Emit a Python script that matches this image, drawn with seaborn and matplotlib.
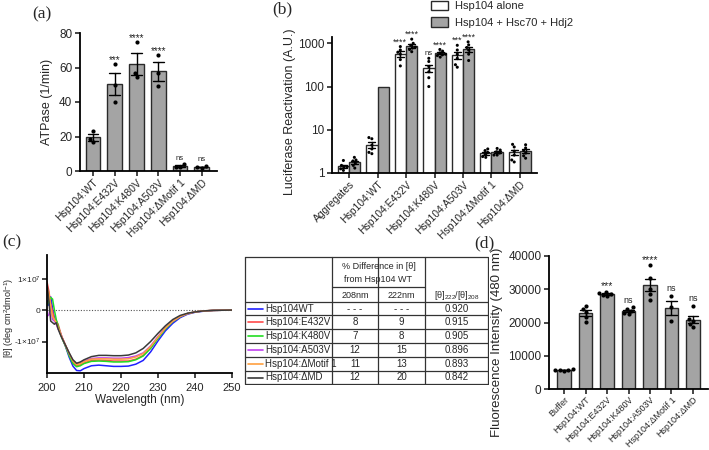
import numpy as np
import pandas as pd
import matplotlib.pyplot as plt
import seaborn as sns
from matplotlib.patches import Patch

sns.set_theme(style="ticks")
plt.rcParams["font.family"] = ["Liberation Sans", "DejaVu Sans"]
plt.rcParams["mathtext.fontset"] = "custom"
plt.rcParams["mathtext.rm"] = "Liberation Sans"
plt.rcParams["mathtext.it"] = "Liberation Sans:italic"
plt.rcParams["axes.linewidth"] = 1.3
plt.rcParams["xtick.major.width"] = 1.2
plt.rcParams["ytick.major.width"] = 1.2
plt.rcParams["xtick.major.size"] = 3.5
plt.rcParams["ytick.major.size"] = 3.5

GRAY = "#a4a4a4"
EDGE = "#2a2a2a"

# ============================================
# DATA
# ============================================

# (a) ATPase
atp_labels = ["Hsp104:WT", "Hsp104:E432V", "Hsp104:K480V", "Hsp104:A503V",
              "Hsp104:ΔMotif 1", "Hsp104:ΔMD"]
atp_points = [[23.4, 18.5, 16.8],
              [62.0, 50.0, 39.8],
              [74.8, 56.7, 54.4],
              [67.4, 56.7, 49.0],
              [3.8, 2.6, 2.4],
              [2.8, 2.1, 2.0]]
atp_sig = ["", "***", "****", "****", "ns", "ns"]

# (b) luciferase reactivation
luc_labels = ["Aggregates", "Hsp104:WT", "Hsp104:E432V", "Hsp104:K480V",
              "Hsp104:A503V", "Hsp104:ΔMotif 1", "Hsp104:ΔMD"]
luc_conditions = ["Hsp104 alone", "Hsp104 + Hsc70 + Hdj2"]
luc_alone = [[1.15, 1.25, 1.35, 1.4, 1.5, 1.95],
             [6.6, 6.2, 4.4, 3.6, 3.0, 2.8],
             [840, 700, 620, 560, 420, 300],
             [450, 380, 290, 220, 160, 100],
             [900, 700, 560, 450, 320, 280],
             [3.6, 3.3, 3.0, 2.7, 2.4, 2.3],
             [4.6, 4.0, 3.2, 2.6, 2.0, 1.8]]
luc_chap = [[1.3, 1.5, 1.7, 1.9, 2.0, 2.3],
            [100],
            [1250, 1000, 900, 820, 780, 720, 640],
            [720, 660, 600, 560, 540, 520, 480],
            [1080, 920, 800, 700, 560, 400],
            [3.7, 3.4, 3.1, 2.9, 2.6, 2.6],
            [4.5, 3.8, 3.3, 2.9, 2.5, 2.2]]
luc_sig_alone = ["", "", "****", "ns", "***", "", ""]
luc_sig_chap = ["", "", "****", "****", "****", "", ""]

# (c) CD spectra (x1e7 deg cm2 dmol-1)
cd_names = ["Hsp104WT", "Hsp104:E432V", "Hsp104:K480V", "Hsp104:A503V",
            "Hsp104:ΔMotif 1", "Hsp104:ΔMD"]
cd_colors = ["#2020ff", "#ff4a4a", "#22dd22", "#c040f0", "#ffa040", "#3a3a3a"]
cd_wl = [200, 200.5, 201, 201.5, 202, 202.5, 203, 203.5, 204, 205, 206, 207,
         208, 209, 210, 212, 214, 216, 218, 220, 222, 224, 226, 228, 230, 232,
         234, 236, 238, 240, 242, 245, 250]
cd_wt = [0.30, 0.15, 0.42, 0.05, -0.25, -0.35, -0.55, -0.70, -0.85, -1.15, -1.50,
         -1.78, -1.92, -1.93, -1.86, -1.77, -1.75, -1.77, -1.79, -1.79, -1.78,
         -1.72, -1.60, -1.33, -0.98, -0.66, -0.42, -0.24, -0.13, -0.07, -0.04,
         -0.01, 0]
cd_e432v = [0.90, 0.60, 0.20, -0.05, -0.30, -0.35, -0.45, -0.65, -0.85, -1.12,
            -1.40, -1.65, -1.77, -1.74, -1.68, -1.60, -1.59, -1.60, -1.62, -1.62,
            -1.62, -1.56, -1.44, -1.20, -0.88, -0.58, -0.36, -0.21, -0.11, -0.06,
            -0.03, -0.01, 0]
cd_k480v = [0.15, 0.30, 0.40, 0.35, 0.00, -0.30, -0.50, -0.70, -0.88, -1.15,
            -1.45, -1.70, -1.80, -1.77, -1.70, -1.63, -1.62, -1.63, -1.65, -1.65,
            -1.64, -1.58, -1.46, -1.22, -0.90, -0.60, -0.37, -0.21, -0.11, -0.06,
            -0.03, -0.01, 0]
cd_a503v = [-0.20, -0.15, 0.10, -0.30, -0.35, -0.45, -0.60, -0.70, -0.85, -1.12,
            -1.38, -1.60, -1.71, -1.68, -1.62, -1.54, -1.52, -1.52, -1.53, -1.53,
            -1.51, -1.46, -1.36, -1.14, -0.84, -0.56, -0.35, -0.20, -0.11, -0.06,
            -0.03, -0.01, 0]
cd_motif1 = [0.70, 0.55, 0.10, -0.20, -0.30, -0.40, -0.55, -0.70, -0.85, -1.12,
             -1.38, -1.62, -1.73, -1.70, -1.64, -1.56, -1.55, -1.55, -1.56, -1.56,
             -1.55, -1.49, -1.38, -1.16, -0.86, -0.57, -0.35, -0.20, -0.11, -0.06,
             -0.03, -0.01, 0]
cd_md = [0.85, 0.30, -0.35, -0.40, -0.45, -0.40, -0.60, -0.75, -0.88, -1.12,
         -1.36, -1.58, -1.69, -1.65, -1.58, -1.48, -1.44, -1.44, -1.45, -1.45,
         -1.43, -1.36, -1.22, -1.00, -0.74, -0.50, -0.30, -0.17, -0.10, -0.06,
         -0.03, -0.01, 0]
cd_series = [cd_wt, cd_e432v, cd_k480v, cd_a503v, cd_motif1, cd_md]

tab_diff208 = ["- - -", "8", "7", "12", "11", "12"]
tab_diff222 = ["- - -", "9", "8", "15", "13", "20"]
tab_ratio = ["0.920", "0.915", "0.905", "0.896", "0.893", "0.842"]

# (d) fluorescence
fl_labels = ["Buffer", "Hsp104:WT", "Hsp104:E432V", "Hsp104:K480V",
             "Hsp104:A503V", "Hsp104:ΔMotif 1", "Hsp104:ΔMD"]
fl_points = [[5900, 5700, 5500, 5600, 5800],
             [25000, 24200, 23200, 21600, 20300],
             [29200, 28800, 28500, 28200, 28000],
             [24600, 24000, 23500, 23000, 22500],
             [37200, 33500, 30000, 28500, 26800],
             [28000, 24800, 20500],
             [25000, 21000, 20500, 19500, 18500]]
fl_sig = ["", "", "***", "ns", "****", "ns", "ns"]


def px_axes(fig, left, top, right, bottom, W=709, H=450):
    return fig.add_axes([left / W, 1 - bottom / H, (right - left) / W, (bottom - top) / H])


fig = plt.figure(figsize=(7.09, 4.5), dpi=100)

# ============================================
# (a)
# ============================================
ax_a = px_axes(fig, 80, 33, 217, 171)
df_a = pd.DataFrame([(lab, v) for lab, pts in zip(atp_labels, atp_points) for v in pts],
                    columns=["variant", "atpase"])
sns.barplot(data=df_a, x="variant", y="atpase", order=atp_labels, color=GRAY,
            saturation=1, edgecolor=EDGE, linewidth=1, width=0.68, errorbar="se",
            capsize=0.5, err_kws={"color": "black", "linewidth": 1}, ax=ax_a)
sns.swarmplot(data=df_a, x="variant", y="atpase", order=atp_labels, color="black",
              size=3, ax=ax_a)
for i, pts in enumerate(atp_points):
    top = max(max(pts), np.mean(pts) + np.std(pts, ddof=1) / np.sqrt(len(pts)))
    fs = 5.5 if atp_sig[i] == "ns" else 7
    off = 3.6 if atp_sig[i] == "ns" else 2.2
    ax_a.text(i, top + off, atp_sig[i], ha="center", va="center", fontsize=fs, color="#222222")
ax_a.set_xlim(-0.6, 5.7)
ax_a.set_ylim(0, 80)
ax_a.set_yticks([0, 20, 40, 60, 80])
ax_a.set_ylabel("ATPase (1/min)", fontsize=9)
ax_a.yaxis.set_label_coords((53 - 80) / 137, 0.5)
ax_a.set_xlabel("")

# ============================================
# (b)
# ============================================
ax_b = px_axes(fig, 332, 37, 537, 173)
rows = []
for lab, a_pts, c_pts in zip(luc_labels, luc_alone, luc_chap):
    rows += [(lab, luc_conditions[0], v) for v in a_pts]
    rows += [(lab, luc_conditions[1], v) for v in c_pts]
df_b = pd.DataFrame(rows, columns=["variant", "condition", "value"])
pal_b = {luc_conditions[0]: "white", luc_conditions[1]: GRAY}
sns.barplot(data=df_b, x="variant", y="value", hue="condition", order=luc_labels,
            hue_order=luc_conditions, palette=pal_b, saturation=1, edgecolor=EDGE,
            linewidth=1, width=0.8, errorbar="se", capsize=0.5,
            err_kws={"color": "black", "linewidth": 1}, legend=False, ax=ax_b)
ax_b.set_yscale("log")
ax_b.set_ylim(1, 1400)
n_per = df_b.groupby(["variant", "condition"])["value"].transform("size")
sns.swarmplot(data=df_b[n_per > 1], x="variant", y="value", hue="condition",
              order=luc_labels, hue_order=luc_conditions,
              palette={c: "black" for c in luc_conditions}, dodge=True, size=2.2,
              legend=False, ax=ax_b)
for i in range(len(luc_labels)):
    for j, (pts, sig) in enumerate([(luc_alone[i], luc_sig_alone[i]), (luc_chap[i], luc_sig_chap[i])]):
        if sig:
            fs = 5.5 if sig == "ns" else 6.5
            ax_b.text(i - 0.2 + 0.4 * j, max(pts) * 1.28, sig, ha="center", va="center",
                      fontsize=fs, color="#222222")
ax_b.set_xlim(-0.6, 6.6)
ax_b.set_yticks([1, 10, 100, 1000])
ax_b.set_yticklabels(["1", "10", "100", "1000"])
ax_b.minorticks_off()
ax_b.set_ylabel("Luciferase Reactivation (A.U.)", fontsize=9)
ax_b.yaxis.set_label_coords((296 - 332) / 205, 0.45)
ax_b.set_xlabel("")
handles = [Patch(facecolor=pal_b[c], edgecolor=EDGE, linewidth=1) for c in luc_conditions]
fig.legend(handles, luc_conditions, loc="upper left", bbox_to_anchor=(427 / 709, 1.008),
           frameon=False, fontsize=8, handlelength=1.5, handleheight=0.9,
           labelspacing=0.55, handletextpad=0.6, borderaxespad=0)

# ============================================
# (c) CD spectra
# ============================================
ax_c = px_axes(fig, 47, 255, 232, 373)
df_c = pd.DataFrame([(name, w, v * 1e7) for name, ser in zip(cd_names, cd_series)
                     for w, v in zip(cd_wl, ser)], columns=["name", "wl", "theta"])
ax_c.axhline(0, color="#555555", linestyle=(0, (1, 1.5)), linewidth=0.8, zorder=0)
sns.lineplot(data=df_c, x="wl", y="theta", hue="name", hue_order=cd_names,
             palette=cd_colors, linewidth=1.1, legend=False, ax=ax_c)
ax_c.set_xlim(200, 250)
ax_c.set_ylim(-2.0e7, 1.75e7)
ax_c.set_xticks([200, 210, 220, 230, 240, 250])
ax_c.set_yticks([-1e7, 0, 1e7])
ax_c.set_yticklabels(["-1×10$^7$", "0", "1×10$^7$"])
ax_c.set_xlabel("Wavelength (nm)", fontsize=8.5, labelpad=1)
ax_c.set_ylabel("[θ] (deg cm$^2$dmol$^{-1}$)", fontsize=6.5)
ax_c.yaxis.set_label_coords((16 - 47) / 185, 0.47)
ax_c.tick_params(axis="x", labelsize=8)
ax_c.tick_params(axis="y", labelsize=6, pad=1)

# table
ax_t = px_axes(fig, 244, 256, 489, 385)
ax_t.set_xlim(244, 489)
ax_t.set_ylim(385, 256)
ax_t.axis("off")
tc = "#333333"
col_x = [245, 332, 378, 425, 488]
row_y = [302, 315, 329, 343, 357, 371, 384]
lw = 0.9
ax_t.plot([245, 488, 488, 245, 245], [257, 257, 384, 384, 257], color=tc, lw=lw)
for x in col_x[1:-1]:
    ax_t.plot([x, x], [257, 384], color=tc, lw=lw)
ax_t.plot([332, 425], [287, 287], color=tc, lw=lw)
for y in row_y[:-1]:
    ax_t.plot([245, 488], [y, y], color=tc, lw=lw)
ax_t.text(378.5, 266.5, "% Difference in [θ]", ha="center", va="center", fontsize=6.5)
ax_t.text(378.5, 279, "from Hsp104 WT", ha="center", va="center", fontsize=6.5)
ax_t.text(355, 295, "208nm", ha="center", va="center", fontsize=6.5)
ax_t.text(401.5, 295, "222nm", ha="center", va="center", fontsize=6.5)
ax_t.text(456.5, 296, "[θ]$_{222}$/[θ]$_{208}$", ha="center", va="center", fontsize=6.5)
for k in range(len(cd_names)):
    yc = (row_y[k] + row_y[k + 1]) / 2
    ax_t.plot([248, 263], [yc, yc], color=cd_colors[k], lw=1.2)
    ax_t.text(265, yc, cd_names[k], ha="left", va="center", fontsize=7)
    ax_t.text(355, yc, tab_diff208[k], ha="center", va="center", fontsize=7)
    ax_t.text(401.5, yc, tab_diff222[k], ha="center", va="center", fontsize=7)
    ax_t.text(456.5, yc, tab_ratio[k], ha="center", va="center", fontsize=7)

# ============================================
# (d)
# ============================================
ax_d = px_axes(fig, 549, 256, 708, 389)
df_d = pd.DataFrame([(lab, v) for lab, pts in zip(fl_labels, fl_points) for v in pts],
                    columns=["variant", "fluor"])
sns.barplot(data=df_d, x="variant", y="fluor", order=fl_labels, color=GRAY,
            saturation=1, edgecolor=EDGE, linewidth=1, width=0.62, errorbar="se",
            capsize=0.5, err_kws={"color": "black", "linewidth": 1}, ax=ax_d)
sns.swarmplot(data=df_d, x="variant", y="fluor", order=fl_labels, color="black",
              size=3, ax=ax_d)
for i, pts in enumerate(fl_points):
    if not fl_sig[i]:
        continue
    top = max(max(pts), np.mean(pts) + np.std(pts, ddof=1) / np.sqrt(len(pts)))
    fs = 6.5 if fl_sig[i] == "ns" else 7.5
    off = 2100 if fl_sig[i] == "ns" else 1700
    ax_d.text(i, top + off, fl_sig[i], ha="center", va="center", fontsize=fs, color="#222222")
ax_d.set_xlim(-0.7, 6.7)
ax_d.set_ylim(0, 40000)
ax_d.set_yticks([0, 10000, 20000, 30000, 40000])
ax_d.set_ylabel("Fluorescence Intensity (480 nm)", fontsize=9.5)
ax_d.yaxis.set_label_coords((503 - 549) / 159, 0.35)
ax_d.set_xlabel("")

for ax, fs in [(ax_a, 7.5), (ax_b, 7.5), (ax_d, 6.5)]:
    ax.tick_params(axis="y", labelsize=8.5, pad=2)
    ax.tick_params(axis="x", labelsize=fs, pad=1)
    for lbl in ax.get_xticklabels():
        lbl.set_rotation(45)
        lbl.set_ha("right")
        lbl.set_rotation_mode("anchor")

for ax in [ax_a, ax_b, ax_c, ax_d]:
    sns.despine(ax=ax)
    for s in ["left", "bottom"]:
        ax.spines[s].set_color("black")

# panel labels
for txt, x, y in [("(a)", 42, 14), ("(b)", 282, 9), ("(c)", 12, 242), ("(d)", 484, 243)]:
    fig.text(x / 709, 1 - y / 450, txt, ha="center", va="center", fontsize=12.5,
             family=["Liberation Serif", "DejaVu Serif"])

fig.savefig("out.png", dpi=100)
